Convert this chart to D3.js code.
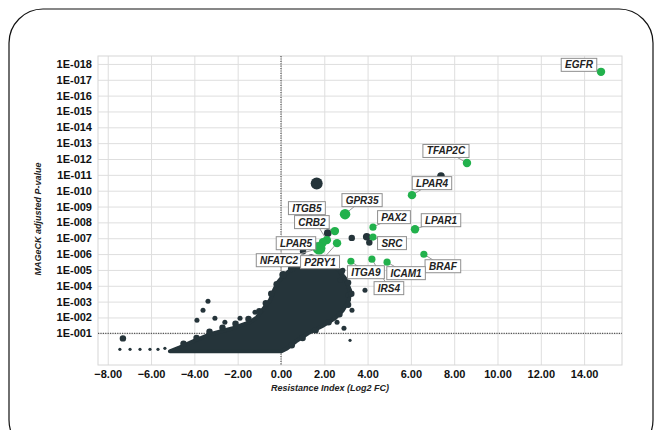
<!DOCTYPE html>
<html>
<head>
<meta charset="utf-8">
<script src="https://cdn.jsdelivr.net/npm/d3@7"></script>
<style>
  body { margin: 0; background: #fff; }
  svg { display: block; font-family: "Liberation Sans", Arial, sans-serif; }
</style>
</head>
<body>
<div id="chart"></div>
<script>
// Volcano-style plot: resistance index vs MAGeCK adjusted p-value
// y values are stored as -log10(p)

const xTicks = [-8, -6, -4, -2, 0, 2, 4, 6, 8, 10, 12, 14];
const yTicks = [1, 2, 3, 4, 5, 6, 7, 8, 9, 10, 11, 12, 13, 14, 15, 16, 17, 18];
const yTickLabels = ['1E-001', '1E-002', '1E-003', '1E-004', '1E-005', '1E-006', '1E-007', '1E-008', '1E-009',
    '1E-010', '1E-011', '1E-012', '1E-013', '1E-014', '1E-015', '1E-016', '1E-017', '1E-018'];

// outline of the dense mass of genes [log2FC, -log10 p]
const cloudOutline = [
    [-5.13, -0.14], [-4.67, 0.12], [-4.06, 0.49], [-3.28, 0.94], [-2.22, 1.32], [-1.43, 1.70],
    [-1.11, 2.01], [-0.79, 2.58], [-0.51, 3.09], [-0.32, 3.72], [-0.14, 4.22], [0.09, 4.60],
    [0.42, 4.98], [0.74, 5.36], [1.11, 5.61], [1.66, 5.68], [2.12, 5.49], [2.59, 5.11],
    [2.96, 4.48], [3.19, 3.72], [3.14, 3.09], [2.86, 2.45], [2.49, 1.95], [1.89, 1.44],
    [1.25, 1.00], [0.69, 0.49], [0.28, 0.05], [0.00, -0.14]
];

// genes sitting on the rim of the mass
const rimFC = [-4.5, -3.9, -3.3, -2.7, -2.1, -1.5, -1.0, -0.7, -0.45, -0.2, 0.1, 0.5, 0.9, 1.4,
    1.9, 2.4, 2.8, 3.1, 3.25, 3.1, 2.7, 2.2, 1.6, 1.0, 0.5];
const rimNegLogP = [0.35, 0.7, 1.1, 1.35, 1.6, 1.9, 2.4, 2.9, 3.5, 4.1, 4.7, 5.1, 5.5, 5.75,
    5.7, 5.35, 4.9, 4.2, 3.5, 2.8, 2.2, 1.7, 1.2, 0.7, 0.25];
const rimWeight = [3, 3, 3, 3, 3, 3, 3, 3, 3, 3, 4, 4, 4, 4, 4, 4, 3, 3, 3, 3, 3, 3, 3, 3, 3];

// scattered (non-highlighted) genes
const darkFC = [-7.30, -7.44, -6.97, -6.51, -6.05, -5.68, -5.36, -3.37, -3.60, -3.88, -3.05, -2.59,
    -1.89, -1.20, 3.09, 3.28, 2.59, 2.91, 3.19, 3.88, 1.02, 1.65, 2.16, 3.27, 3.96, 4.08, 7.39,
    0.05, 0.42, 2.73, 2.86];
const darkNegLogP = [0.68, -0.01, -0.01, -0.01, -0.01, -0.01, 0.05, 3.02, 2.45, 1.82, 1.95, 1.70,
    1.95, 2.33, 3.40, 2.45, 1.70, 1.32, 0.56, 3.72, 6.18, 10.46, 7.32, 7.02, 7.09, 6.73, 10.92,
    5.49, 5.74, 4.35, 4.98];
const darkWeight = [3, 1, 1, 1, 1, 1, 1, 2, 2, 2, 2, 2,
    2, 2, 2, 2, 2, 2, 1, 2, 3, 9, 4, 3, 4, 3, 4,
    2, 2, 2, 2];

// highlighted genes
const geneNames = ['EGFR', 'TFAP2C', 'LPAR4', 'LPAR1', 'BRAF', 'PAX2', 'SRC', 'GPR35', 'CRB2',
    'ITGB5', 'LPAR5', 'NFATC2', 'P2RY1', 'ITGA9', 'IRS4', 'ICAM1'];
const geneFC = [14.78, 8.59, 6.05, 6.19, 6.60, 4.25, 4.25, 2.96, 2.49,
    2.12, 1.94, 1.76, 2.59, 3.23, 4.20, 4.90];
const geneNegLogP = [17.50, 11.75, 9.72, 7.57, 5.99, 7.70, 7.07, 8.52, 7.45,
    6.88, 6.75, 6.37, 6.69, 5.55, 5.68, 5.49];
const geneWeight = [3.5, 3.5, 3.5, 3.5, 2.5, 2.5, 2.5, 5.5, 3.5, 3.5, 3.5, 8, 3.5, 2.5, 2.5, 2.5];

// label box offsets from the point, in pixels
const labelOffset = {
    EGFR: [-22, -7], TFAP2C: [-21, -12], LPAR4: [20, -12], LPAR1: [26, -9], BRAF: [19, 12],
    PAX2: [21, -10], SRC: [19, 6], GPR35: [17, -14], CRB2: [-23, -9], ITGB5: [-20, -32],
    LPAR5: [-27, 1], NFATC2: [-40, 12], P2RY1: [-17, 19], ITGA9: [15, 11], IRS4: [17, 29],
    ICAM1: [19, 11]
};

const W = 654, H = 430;
const plot = { left: 98, right: 622, top: 56, bottom: 365 };

const svg = d3.select('#chart').append('svg')
    .attr('width', W)
    .attr('height', H);

svg.append('rect').attr('width', W).attr('height', H).attr('fill', '#fff');

// rounded frame (bottom is cut by the picture edge)
svg.append('rect')
    .attr('x', 9).attr('y', 9)
    .attr('width', 644).attr('height', 445)
    .attr('rx', 34).attr('ry', 34)
    .attr('fill', 'none')
    .attr('stroke', '#111')
    .attr('stroke-width', 1.2);

const x = d3.scaleLinear().domain([-8.45, 15.75]).range([plot.left, plot.right]);
const y = d3.scaleLinear().domain([-1, 18.5]).range([plot.bottom, plot.top]);
const r = d3.scaleSqrt().domain([1, 9]).range([1.6, 6]);

// grid + axes
const yAxis = svg.append('g')
    .attr('transform', `translate(${plot.left},0)`)
    .call(d3.axisLeft(y)
        .tickValues(yTicks)
        .tickFormat((d, i) => yTickLabels[i])
        .tickSize(-(plot.right - plot.left))
        .tickPadding(6));

const xAxis = svg.append('g')
    .attr('transform', `translate(0,${plot.bottom})`)
    .call(d3.axisBottom(x)
        .tickValues(xTicks)
        .tickFormat(d3.format('.2f'))
        .tickSize(-(plot.bottom - plot.top))
        .tickPadding(5));

[yAxis, xAxis].forEach(a => {
    a.select('.domain').remove();
    a.selectAll('.tick line').attr('stroke', '#dedede').attr('stroke-width', 1);
    a.selectAll('.tick text')
        .attr('fill', '#111')
        .attr('font-size', 11)
        .attr('font-weight', 'bold')
        .attr('font-family', '"Liberation Sans", Arial, sans-serif');
});

svg.append('rect')
    .attr('x', plot.left).attr('y', plot.top)
    .attr('width', plot.right - plot.left)
    .attr('height', plot.bottom - plot.top)
    .attr('fill', 'none')
    .attr('stroke', '#d6d6d6');

// threshold lines
svg.append('line')
    .attr('x1', plot.left).attr('x2', plot.right)
    .attr('y1', y(1)).attr('y2', y(1))
    .attr('stroke', '#555').attr('stroke-width', 1.2)
    .attr('stroke-dasharray', '1.2,1.2');

svg.append('line')
    .attr('x1', x(0)).attr('x2', x(0))
    .attr('y1', plot.top).attr('y2', plot.bottom)
    .attr('stroke', '#555').attr('stroke-width', 1.2)
    .attr('stroke-dasharray', '1.2,1.2');

const dark = '#25343a';
const green = '#22b14c';

// dense mass
svg.append('path')
    .datum(cloudOutline)
    .attr('d', d3.line().x(d => x(d[0])).y(d => y(d[1])).curve(d3.curveLinearClosed))
    .attr('fill', dark)
    .attr('stroke', dark)
    .attr('stroke-width', 4)
    .attr('stroke-linejoin', 'round');

const darkPts = darkFC.map((v, i) => ({ fc: v, k: darkNegLogP[i], w: darkWeight[i] }))
    .concat(rimFC.map((v, i) => ({ fc: v, k: rimNegLogP[i], w: rimWeight[i] })));
svg.append('g')
    .selectAll('circle')
    .data(darkPts)
    .join('circle')
    .attr('cx', d => x(d.fc))
    .attr('cy', d => y(d.k))
    .attr('r', d => r(d.w))
    .attr('fill', dark);

const genes = geneNames.map((n, i) => ({ name: n, fc: geneFC[i], k: geneNegLogP[i], w: geneWeight[i] }));

// leader lines
svg.append('g')
    .selectAll('line')
    .data(genes)
    .join('line')
    .attr('x1', d => x(d.fc))
    .attr('y1', d => y(d.k))
    .attr('x2', d => x(d.fc) + labelOffset[d.name][0])
    .attr('y2', d => y(d.k) + labelOffset[d.name][1])
    .attr('stroke', '#9a9a9a')
    .attr('stroke-width', 1);

svg.append('g')
    .selectAll('circle')
    .data(genes)
    .join('circle')
    .attr('cx', d => x(d.fc))
    .attr('cy', d => y(d.k))
    .attr('r', d => r(d.w) + 0.7)
    .attr('fill', green);

// label boxes
const lab = svg.append('g')
    .selectAll('g')
    .data(genes)
    .join('g')
    .attr('transform', d => `translate(${x(d.fc) + labelOffset[d.name][0]},${y(d.k) + labelOffset[d.name][1]})`);

lab.append('text')
    .text(d => d.name)
    .attr('text-anchor', 'middle')
    .attr('dy', '0.35em')
    .attr('font-size', 10)
    .attr('font-weight', 'bold')
    .attr('font-style', 'italic')
    .attr('fill', '#222');

lab.each(function () {
    const g = d3.select(this);
    const bb = g.select('text').node().getBBox();
    g.insert('rect', 'text')
        .attr('x', -bb.width / 2 - 3.5)
        .attr('y', -6.5)
        .attr('width', bb.width + 7)
        .attr('height', 13)
        .attr('fill', '#fff')
        .attr('stroke', '#8f8f8f')
        .attr('stroke-width', 1);
});

// axis titles
svg.append('text')
    .attr('x', 330)
    .attr('y', 391)
    .attr('text-anchor', 'middle')
    .attr('font-size', 9)
    .attr('font-weight', 'bold')
    .attr('font-style', 'italic')
    .attr('fill', '#222')
    .text('Resistance Index (Log2 FC)');

svg.append('text')
    .attr('transform', 'translate(41,219) rotate(-90)')
    .attr('text-anchor', 'middle')
    .attr('font-size', 9)
    .attr('font-weight', 'bold')
    .attr('font-style', 'italic')
    .attr('fill', '#222')
    .text('MAGeCK adjusted P-value');
</script>
</body>
</html>
